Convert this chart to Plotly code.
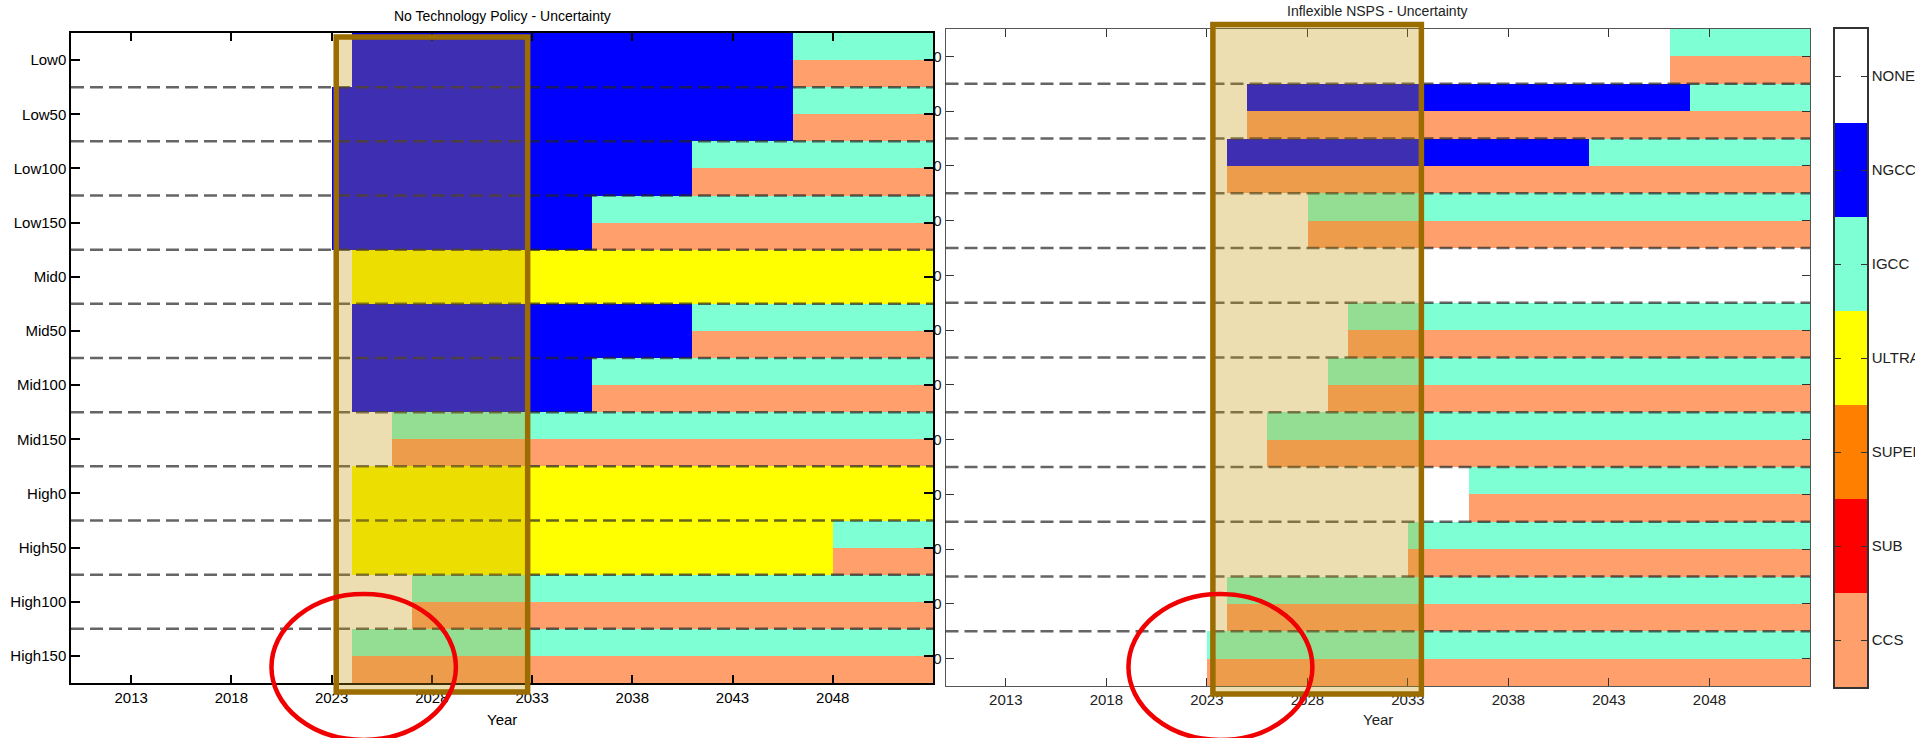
import plotly.graph_objects as go

# ---------------------------------------------------------------------------
# Data
# ---------------------------------------------------------------------------
SCENARIOS = ["Low0", "Low50", "Low100", "Low150",
             "Mid0", "Mid50", "Mid100", "Mid150",
             "High0", "High50", "High100", "High150"]

# colour key, listed from the bottom of the key to the top
TECHNOLOGIES = ["CCS", "SUB", "SUPER", "ULTRA", "IGCC", "NGCC", "NONE"]
TECH_COLORS = ["#FFA06C", "#FF0000", "#FF8000", "#FFFF00", "#7FFFD4", "#0000FF", "#FFFFFF"]

FIRST_YEAR = 2010
LAST_YEAR = 2052
TICK_YEARS = [2013, 2018, 2023, 2028, 2033, 2038, 2043, 2048]

# Build-out plan per scenario: (first year, upper band technology, lower band technology).
# Years before the first entry carry no new build (NONE).
NO_POLICY_PLANS = [
    [(2024, "NGCC", "NGCC"), (2046, "IGCC", "CCS")],   # Low0
    [(2023, "NGCC", "NGCC"), (2046, "IGCC", "CCS")],   # Low50
    [(2023, "NGCC", "NGCC"), (2041, "IGCC", "CCS")],   # Low100
    [(2023, "NGCC", "NGCC"), (2036, "IGCC", "CCS")],   # Low150
    [(2024, "ULTRA", "ULTRA")],                        # Mid0
    [(2024, "NGCC", "NGCC"), (2041, "IGCC", "CCS")],   # Mid50
    [(2024, "NGCC", "NGCC"), (2036, "IGCC", "CCS")],   # Mid100
    [(2026, "IGCC", "CCS")],                           # Mid150
    [(2024, "ULTRA", "ULTRA")],                        # High0
    [(2024, "ULTRA", "ULTRA"), (2048, "IGCC", "CCS")], # High50
    [(2027, "IGCC", "CCS")],                           # High100
    [(2024, "IGCC", "CCS")],                           # High150
]

INFLEXIBLE_NSPS_PLANS = [
    [(2046, "IGCC", "CCS")],                           # Low0
    [(2025, "NGCC", "CCS"), (2047, "IGCC", "CCS")],    # Low50
    [(2024, "NGCC", "CCS"), (2042, "IGCC", "CCS")],    # Low100
    [(2028, "IGCC", "CCS")],                           # Low150
    [],                                                # Mid0
    [(2030, "IGCC", "CCS")],                           # Mid50
    [(2029, "IGCC", "CCS")],                           # Mid100
    [(2026, "IGCC", "CCS")],                           # Mid150
    [(2036, "IGCC", "CCS")],                           # High0
    [(2033, "IGCC", "CCS")],                           # High50
    [(2024, "IGCC", "CCS")],                           # High100
    [(2023, "IGCC", "CCS")],                           # High150
]

# highlighted decision window (years) on each panel
WINDOW_NO_POLICY = (2023.23, 2032.78)
WINDOW_NSPS = (2023.3, 2033.67)
# circled early-build region (years)
CIRCLE_NO_POLICY = (2020.0, 2029.2)
CIRCLE_NSPS = (2019.1, 2028.25)

# ---------------------------------------------------------------------------
# Grid construction
# ---------------------------------------------------------------------------
years = list(range(FIRST_YEAR, LAST_YEAR + 1))
x_edges = years + [LAST_YEAR + 1]
n_rows = len(SCENARIOS)
y_edges = [k * 0.5 - 0.5 for k in range(2 * n_rows + 1)]
code = {t: i + 1 for i, t in enumerate(TECHNOLOGIES)}


def plan_grid(plans):
    z = []
    for plan in plans:
        upper, lower = [], []
        for yr in years:
            u, l = "NONE", "NONE"
            for start, tu, tl in plan:
                if yr >= start:
                    u, l = tu, tl
            upper.append(code[u])
            lower.append(code[l])
        z.append(upper)
        z.append(lower)
    return z


n_cat = len(TECHNOLOGIES)
colorscale = []
for k, c in enumerate(TECH_COLORS):
    colorscale.append([k / n_cat, c])
    colorscale.append([(k + 1) / n_cat, c])

heat_common = dict(colorscale=colorscale, zmin=0.5, zmax=n_cat + 0.5,
                   showscale=False, hoverinfo="skip")

fig = go.Figure()
# right panel first so the left panel is layered over its row labels
fig.add_trace(go.Heatmap(x=x_edges, y=y_edges, z=plan_grid(INFLEXIBLE_NSPS_PLANS),
                         xaxis="x", yaxis="y", **heat_common))
fig.add_trace(go.Heatmap(x=x_edges, y=y_edges, z=plan_grid(NO_POLICY_PLANS),
                         xaxis="x2", yaxis="y2", **heat_common))
# colour key
fig.add_trace(go.Heatmap(x=[0, 1], y=[k + 0.5 for k in range(n_cat + 1)],
                         z=[[k + 1] for k in range(n_cat)],
                         xaxis="x3", yaxis="y3", **heat_common))

FONT = "Liberation Sans, Arial, sans-serif"
W, H = 1915, 738


def xpx(a, b):
    return [a / W, b / W]


def ypx(top, bottom):
    return [1 - bottom / H, 1 - top / H]


LEFT_X, LEFT_Y = xpx(71, 933), ypx(33, 683)
RIGHT_X, RIGHT_Y = xpx(945.5, 1810), ypx(29, 686)
KEY_X, KEY_Y = xpx(1835, 1867), ypx(29, 687)

year_axis = dict(range=[FIRST_YEAR, LAST_YEAR + 1], tickmode="array", tickvals=TICK_YEARS,
                 ticks="inside", showline=True, mirror="ticks", showgrid=False,
                 zeroline=False, automargin=False)
row_axis = dict(range=[n_rows - 0.5, -0.5], tickmode="array",
                tickvals=list(range(n_rows)), ticktext=SCENARIOS,
                ticks="inside", showline=True, mirror="ticks", showgrid=False,
                zeroline=False, automargin=False)

fig.update_layout(
    width=W, height=H,
    margin=dict(l=0, r=0, t=0, b=0, pad=0, autoexpand=False),
    paper_bgcolor="white", plot_bgcolor="white",
    font=dict(family=FONT, size=15, color="black"),
    showlegend=False,
    xaxis=dict(domain=RIGHT_X, anchor="y", **year_axis,
               linecolor="#555", linewidth=1, tickcolor="#333", ticklen=8, tickwidth=1,
               tickfont=dict(size=15, color="#222")),
    yaxis=dict(domain=RIGHT_Y, anchor="x", **row_axis,
               linecolor="#555", linewidth=1, tickcolor="#333", ticklen=8, tickwidth=1,
               tickfont=dict(size=15, color="#222")),
    xaxis2=dict(domain=LEFT_X, anchor="y2", **year_axis,
                linecolor="black", linewidth=1.5, tickcolor="black", ticklen=8, tickwidth=1.5,
                tickfont=dict(size=15, color="black")),
    yaxis2=dict(domain=LEFT_Y, anchor="x2", **row_axis,
                linecolor="black", linewidth=1.5, tickcolor="black", ticklen=9, tickwidth=1.5,
                tickfont=dict(size=15, color="black")),
    xaxis3=dict(domain=KEY_X, anchor="y3", range=[0, 1], showticklabels=False, ticks="",
                showline=True, mirror=True, linecolor="#333", linewidth=1.5,
                showgrid=False, zeroline=False, automargin=False),
    yaxis3=dict(domain=KEY_Y, anchor="x3", side="right", range=[0.5, n_cat + 0.5],
                tickmode="array", tickvals=list(range(1, n_cat + 1)), ticktext=TECHNOLOGIES,
                ticks="inside", ticklen=6, tickwidth=1, tickcolor="#333",
                showline=True, mirror="ticks", linecolor="#333", linewidth=1.5,
                showgrid=False, zeroline=False, automargin=False,
                tickfont=dict(size=15, color="#222")),
)

# panel titles
fig.add_annotation(text="No Technology Policy - Uncertainty", xref="paper", yref="paper",
                   x=sum(LEFT_X) / 2, y=1 - 16 / H, xanchor="center", yanchor="middle",
                   showarrow=False, font=dict(size=14, family=FONT, color="black"))
fig.add_annotation(text="Inflexible NSPS - Uncertainty", xref="paper", yref="paper",
                   x=sum(RIGHT_X) / 2, y=1 - 11 / H, xanchor="center", yanchor="middle",
                   showarrow=False, font=dict(size=14, family=FONT, color="#222"))

# x-axis titles
for dom, col in ((LEFT_X, "black"), (RIGHT_X, "#222")):
    fig.add_annotation(text="Year", xref="paper", yref="paper",
                       x=sum(dom) / 2, y=1 - 719 / H, xanchor="center", yanchor="middle",
                       showarrow=False, font=dict(size=15, family=FONT, color=col))

# dashed separators between scenarios
for xr, yr in (("x2 domain", "y2"), ("x domain", "y")):
    for i in range(n_rows - 1):
        fig.add_shape(type="line", xref=xr, yref=yr, x0=0, x1=1, y0=i + 0.5, y1=i + 0.5,
                      layer="above", line=dict(color="rgba(35,35,35,0.7)", width=2.5,
                                               dash="13px,6px"))

# highlighted decision windows
for xr, (w0, w1), (top, bottom) in (("x2", WINDOW_NO_POLICY, (37, 692)),
                                     ("x", WINDOW_NSPS, (24.5, 694))):
    fig.add_shape(type="rect", xref=xr, yref="paper", x0=w0, x1=w1,
                  y0=1 - bottom / H, y1=1 - top / H, layer="above",
                  fillcolor="rgba(196,150,6,0.31)",
                  line=dict(color="#9B6C00", width=5.5))

# circled early-build region
for xr, (c0, c1) in (("x2", CIRCLE_NO_POLICY), ("x", CIRCLE_NSPS)):
    fig.add_shape(type="circle", xref=xr, yref="paper", x0=c0, x1=c1,
                  y0=1 - 740 / H, y1=1 - 594 / H, layer="above",
                  line=dict(color="#F00000", width=4.5))

fig.write_html("out.html")
